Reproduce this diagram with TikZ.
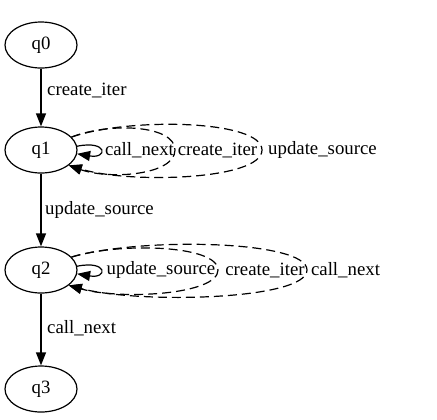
\documentclass[tikz,border=0pt]{standalone}
\usepackage{fontspec}
\setmainfont{Liberation Serif}
\usetikzlibrary{shapes.geometric,arrows.meta}
\begin{document}
\begin{tikzpicture}[x=1bp,y=-1bp,
  >={Triangle[length=13bp,width=10bp]},
  every node/.style={font=\fontsize{18.8bp}{20bp}\selectfont},
  state/.style={ellipse,draw,line width=1.2bp,minimum width=72bp,minimum height=46bp,inner sep=0pt},
  edge/.style={->,line width=1.2bp},
  dedge/.style={->,line width=1.2bp,dash pattern=on 9bp off 5bp},
  lbl/.style={inner sep=0pt}]
\useasboundingbox (0,0) rectangle (437,419);
\node[state] (q0) at (41,45) {q0};
\node[state] (q1) at (41,150) {q1};
\node[state] (q2) at (41,270) {q2};
\node[state] (q3) at (41,389) {q3};
% straight edges
\draw[edge] (q0) -- (q1);
\draw[edge] (q1) -- (q2);
\draw[edge] (q2) -- (q3);
\node[lbl,anchor=west] (l01) at (47,90) {create\_iter};
\node[lbl,anchor=west] (l12) at (45,210) {update\_source};
\node[lbl,anchor=west] (l23) at (47,328) {call\_next};
% q1 self loops
\draw[edge] (q1.6) .. controls (108,140) and (108,159) .. (q1.-6);
\draw[dedge] (q1.23) .. controls (110,122) and (175,125) .. (175,150) .. controls (175,175) and (110,180) .. (q1.-29);
\draw[dedge] (q1.23) .. controls (130,117) and (262,120) .. (262,150) .. controls (262,180) and (130,184) .. (q1.-29);
\node[lbl] (a1) at (139.5,150) {call\_next};
\node[lbl] (b1) at (217.5,150) {create\_iter};
\node[lbl] (c1) at (322.5,150) {update\_source};
% q2 self loops
\draw[edge] (q2.6) .. controls (108,260) and (108,279) .. (q2.-6);
\draw[dedge] (q2.23) .. controls (120,242) and (218,245) .. (218,270) .. controls (218,295) and (120,300) .. (q2.-29);
\draw[dedge] (q2.23) .. controls (140,237) and (307,240) .. (307,270) .. controls (307,300) and (140,304) .. (q2.-29);
\node[lbl] (a2) at (161,270) {update\_source};
\node[lbl] (b2) at (265,270) {create\_iter};
\node[lbl] (c2) at (345.5,270) {call\_next};
\end{tikzpicture}
\end{document}
